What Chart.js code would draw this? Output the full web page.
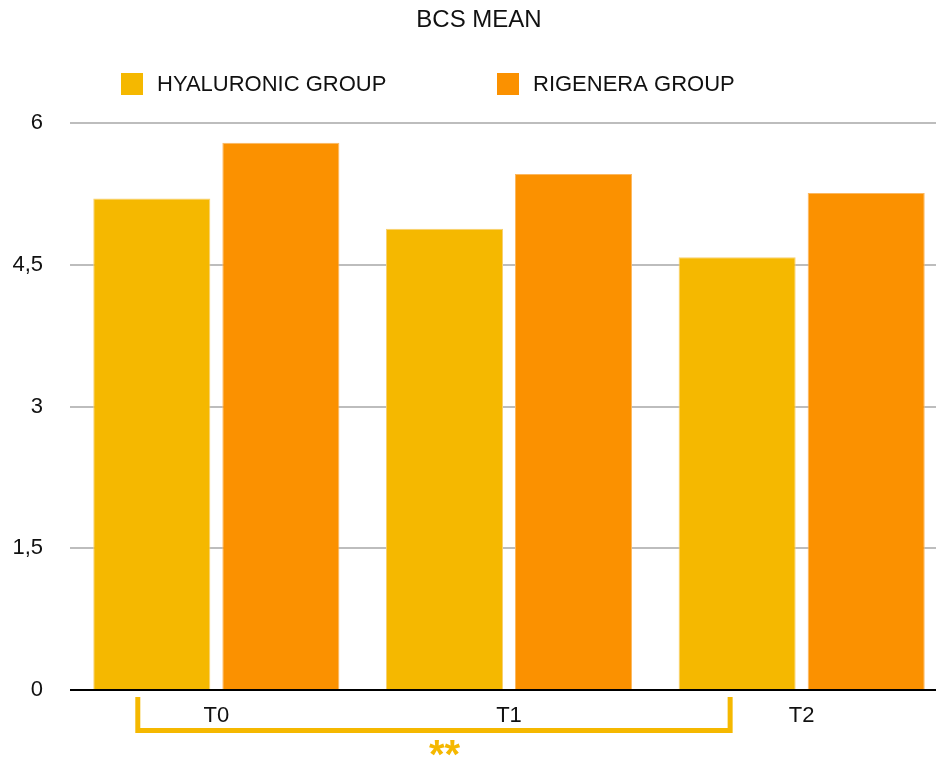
<!DOCTYPE html>
<html>
<head>
<meta charset="utf-8">
<script src="https://cdn.jsdelivr.net/npm/chart.js@4.4.1/dist/chart.umd.min.js"></script>
<style>
  html, body { margin: 0; padding: 0; background: #fff; overflow: hidden; }
  #wrap { width: 948px; height: 760px; }
</style>
</head>
<body>
<div id="wrap"><canvas id="chart" width="948" height="760"></canvas></div>
<script>
// BCS mean per time point
const timePoints = ['T0', 'T1', 'T2'];
const hyaluronicMean = [5.2, 4.88, 4.58];
const rigeneraMean = [5.79, 5.46, 5.26];
const groupNames = ['HYALURONIC GROUP', 'RIGENERA GROUP'];
const yTickLabels = ['0', '1,5', '3', '4,5', '6'];
const significance = '**';

const FONT = "'Liberation Sans', Arial, Helvetica, sans-serif";
const YELLOW = '#F5B800';
const ORANGE = '#FB9100';

// legend drawn by hand so the two items sit where they should
const customLegend = {
  id: 'customLegend',
  afterDraw(chart, args, opts) {
    const ctx = chart.ctx;
    ctx.save();
    ctx.font = '22px ' + FONT;
    ctx.textBaseline = 'middle';
    ctx.textAlign = 'left';
    chart.data.datasets.forEach((ds, i) => {
      const x = opts.xs[i];
      ctx.fillStyle = ds.backgroundColor;
      ctx.fillRect(x, opts.y - 11, 22, 22);
      ctx.fillStyle = '#111';
      ctx.fillText(ds.label, x + 36, opts.y + 1);
    });
    ctx.restore();
  }
};

// significance bracket under the axis, T0 -> T2 of the hyaluronic group
const bracket = {
  id: 'bracket',
  afterDraw(chart) {
    const bars = chart.getDatasetMeta(0).data;
    const ctx = chart.ctx;
    const left = bars[0].x - 14;
    const right = bars[2].x - 7;
    const top = 697, bottom = 730.5;
    ctx.save();
    ctx.strokeStyle = YELLOW;
    ctx.lineWidth = 5;
    ctx.lineCap = 'butt';
    ctx.beginPath();
    ctx.moveTo(left, top);
    ctx.lineTo(left, bottom);
    ctx.lineTo(right, bottom);
    ctx.lineTo(right, top);
    ctx.stroke();
    ctx.fillStyle = YELLOW;
    ctx.font = 'bold 40px ' + FONT;
    ctx.textAlign = 'center';
    ctx.textBaseline = 'alphabetic';
    ctx.fillText(significance, bars[1].x, 768);
    ctx.restore();
  }
};

new Chart(document.getElementById('chart'), {
  type: 'bar',
  data: {
    labels: timePoints,
    datasets: [
      {
        label: groupNames[0],
        data: hyaluronicMean,
        backgroundColor: YELLOW,
        borderColor: '#F8D070',
        borderWidth: 1
      },
      {
        label: groupNames[1],
        data: rigeneraMean,
        backgroundColor: ORANGE,
        borderColor: '#FCB860',
        borderWidth: 1
      }
    ]
  },
  options: {
    responsive: false,
    animation: false,
    categoryPercentage: 0.882,
    barPercentage: 0.907,
    layout: { padding: { left: 10, right: 0, top: 0, bottom: 0 } },
    plugins: {
      legend: { display: false },
      tooltip: { enabled: false },
      title: {
        display: true,
        text: 'BCS MEAN',
        color: '#111',
        font: { family: FONT, size: 24, weight: 'normal' },
        padding: { top: 6, bottom: 88.2 }
      },
      customLegend: { xs: [121, 497], y: 84 }
    },
    scales: {
      x: {
        grid: { display: false, drawTicks: false },
        border: { display: false },
        ticks: {
          color: '#111',
          font: { family: FONT, size: 22 },
          padding: 13
        },
        afterFit: (scale) => { scale.height = 70; }
      },
      y: {
        min: 0,
        max: 6,
        ticks: {
          stepSize: 1.5,
          color: '#111',
          font: { family: FONT, size: 22 },
          padding: 27,
          crossAlign: 'near',
          callback: (v, i) => yTickLabels[i]
        },
        grid: {
          drawTicks: false,
          lineWidth: 2,
          color: (c) => c.tick && c.tick.value === 0 ? '#000' : '#BDBDBD'
        },
        border: { display: false },
        afterFit: (scale) => { scale.width = 60; }
      }
    }
  },
  plugins: [customLegend, bracket]
});
</script>
</body>
</html>
